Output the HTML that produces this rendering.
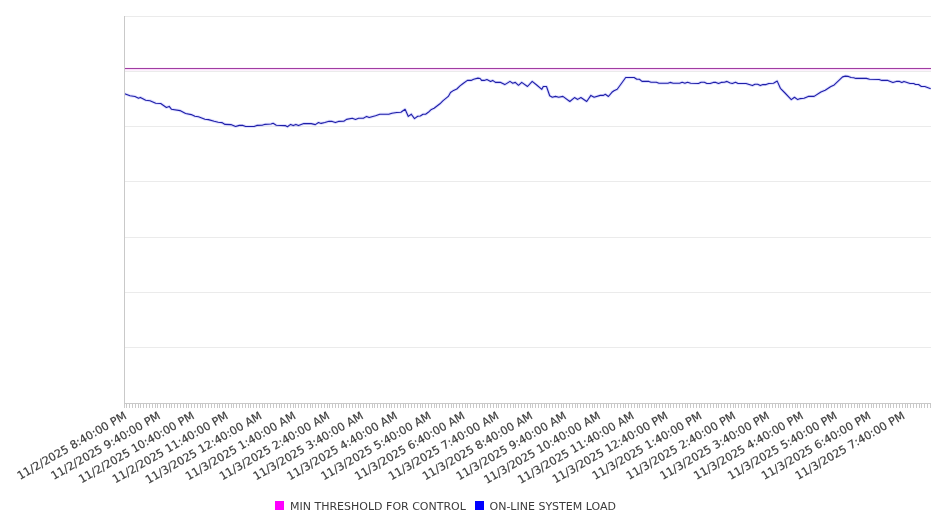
<!DOCTYPE html>
<html><head><meta charset="utf-8"><title>Chart</title>
<style>
html,body{margin:0;padding:0;background:#fff;width:946px;height:526px;overflow:hidden}
svg{display:block;will-change:transform}
text{font-family:"DejaVu Sans","Liberation Sans",sans-serif;font-size:11px;fill:#3b3b3b}
.xl{font-size:11.2px;stroke:#4a4a4a;stroke-width:0.2px}
</style></head><body>
<svg width="946" height="526" viewBox="0 0 946 526">
<rect width="946" height="526" fill="#fff"/>
<g shape-rendering="crispEdges"><rect x="125" y="16" width="806" height="1" fill="#ebebeb"/><rect x="125" y="71" width="806" height="1" fill="#ebebeb"/><rect x="125" y="126" width="806" height="1" fill="#ebebeb"/><rect x="125" y="181" width="806" height="1" fill="#ebebeb"/><rect x="125" y="237" width="806" height="1" fill="#ebebeb"/><rect x="125" y="292" width="806" height="1" fill="#ebebeb"/><rect x="125" y="347" width="806" height="1" fill="#ebebeb"/></g>
<rect x="125" y="67" width="806" height="1" fill="#fdf2fd"/><rect x="125" y="69" width="806" height="1" fill="#f8def8"/><rect x="125" y="70" width="806" height="1" fill="#fdf2fd"/><rect x="125" y="68" width="806" height="1" fill="#a03ca2"/>
<path d="M124.7 93.8 L130.0 95.7 L135.0 96.5 L138.5 98.2 L140.4 97.4 L145.7 100.2 L150.0 100.7 L155.7 103.2 L160.7 103.5 L166.4 107.5 L169.2 106.4 L171.4 109.2 L180.0 110.6 L185.6 113.5 L191.3 114.6 L194.9 116.3 L198.5 116.8 L204.9 119.2 L208.4 119.6 L214.2 121.3 L218.2 122.2 L221.9 122.6 L225.0 124.4 L230.9 124.6 L235.6 126.5 L239.3 125.4 L243.0 125.4 L245.7 126.5 L254.1 126.5 L256.8 125.4 L262.6 125.1 L264.7 124.4 L271.0 124.0 L273.1 123.3 L276.3 125.2 L285.3 125.6 L287.4 126.7 L290.6 124.4 L293.2 125.6 L295.9 124.4 L298.5 125.6 L303.8 123.6 L311.2 123.6 L315.3 124.6 L318.5 122.5 L321.1 123.4 L324.8 122.5 L329.0 121.3 L332.2 121.4 L335.4 122.6 L338.5 121.4 L343.8 121.2 L346.5 119.4 L352.3 118.3 L355.5 119.4 L358.6 118.3 L363.4 118.3 L366.6 116.4 L369.2 117.5 L375.5 115.8 L379.8 114.3 L388.8 114.3 L391.9 113.3 L396.7 112.5 L400.9 112.2 L405.1 109.3 L408.3 116.4 L411.3 114.2 L414.5 118.6 L417.7 116.3 L420.3 116.0 L423.0 114.2 L425.6 114.2 L428.3 112.3 L431.4 109.4 L434.1 108.3 L439.9 103.8 L443.1 100.7 L448.3 96.4 L450.5 92.5 L453.6 90.4 L456.8 89.0 L460.0 85.9 L463.1 83.5 L467.4 80.4 L471.1 80.4 L473.7 79.2 L477.9 78.1 L480.1 78.5 L481.6 80.4 L484.3 80.4 L486.9 79.5 L490.6 81.4 L492.7 80.4 L495.4 82.4 L500.7 82.4 L504.8 84.6 L510.0 81.4 L512.7 83.2 L515.3 82.4 L518.5 85.3 L521.7 82.4 L527.5 86.5 L532.2 81.4 L537.0 85.3 L541.8 89.3 L543.3 86.5 L546.5 86.5 L549.7 95.7 L552.3 97.2 L555.5 96.4 L558.7 97.2 L562.9 96.4 L569.8 101.5 L574.5 97.6 L577.7 99.4 L580.9 97.5 L586.7 101.5 L590.9 95.4 L594.1 97.2 L600.3 95.4 L603.5 95.4 L605.3 94.3 L608.4 96.5 L611.9 92.3 L614.0 90.7 L617.2 89.3 L621.4 83.5 L625.7 77.5 L634.1 77.5 L636.8 79.3 L639.4 79.3 L642.0 81.4 L648.9 81.4 L651.0 82.2 L656.3 82.2 L659.0 83.3 L667.9 83.3 L670.1 82.4 L673.2 83.3 L679.6 83.3 L682.2 82.2 L684.9 83.3 L687.5 82.2 L690.7 83.3 L698.5 83.5 L701.1 82.2 L704.3 82.2 L706.9 83.5 L710.1 83.5 L713.3 82.4 L715.9 82.4 L718.5 83.5 L721.2 82.4 L724.4 82.2 L727.0 81.4 L730.2 83.0 L732.3 83.5 L735.5 82.2 L738.1 83.5 L746.0 83.5 L752.4 85.6 L755.0 84.3 L757.7 84.3 L760.3 85.6 L762.9 84.6 L766.1 84.6 L768.8 83.5 L773.5 83.2 L777.2 81.1 L780.4 88.3 L785.0 93.0 L791.3 99.6 L794.5 97.2 L797.7 99.6 L800.3 98.6 L804.0 98.3 L808.3 96.4 L814.1 96.4 L820.9 92.0 L825.2 90.2 L830.5 86.7 L834.2 84.9 L838.4 80.9 L842.6 76.9 L845.3 76.1 L848.4 76.4 L851.1 77.5 L853.7 77.7 L855.8 78.4 L866.4 78.4 L869.6 79.3 L879.1 79.5 L881.8 80.4 L887.8 80.4 L892.9 82.5 L896.3 81.4 L899.6 81.4 L901.8 82.5 L904.0 81.4 L910.0 83.5 L913.7 83.5 L915.5 84.5 L918.5 84.5 L921.4 86.5 L924.8 86.5 L930.7 88.7" fill="none" stroke="#6a6aff" stroke-opacity="0.22" stroke-width="3" stroke-linejoin="round"/>
<path d="M124.7 93.8 L130.0 95.7 L135.0 96.5 L138.5 98.2 L140.4 97.4 L145.7 100.2 L150.0 100.7 L155.7 103.2 L160.7 103.5 L166.4 107.5 L169.2 106.4 L171.4 109.2 L180.0 110.6 L185.6 113.5 L191.3 114.6 L194.9 116.3 L198.5 116.8 L204.9 119.2 L208.4 119.6 L214.2 121.3 L218.2 122.2 L221.9 122.6 L225.0 124.4 L230.9 124.6 L235.6 126.5 L239.3 125.4 L243.0 125.4 L245.7 126.5 L254.1 126.5 L256.8 125.4 L262.6 125.1 L264.7 124.4 L271.0 124.0 L273.1 123.3 L276.3 125.2 L285.3 125.6 L287.4 126.7 L290.6 124.4 L293.2 125.6 L295.9 124.4 L298.5 125.6 L303.8 123.6 L311.2 123.6 L315.3 124.6 L318.5 122.5 L321.1 123.4 L324.8 122.5 L329.0 121.3 L332.2 121.4 L335.4 122.6 L338.5 121.4 L343.8 121.2 L346.5 119.4 L352.3 118.3 L355.5 119.4 L358.6 118.3 L363.4 118.3 L366.6 116.4 L369.2 117.5 L375.5 115.8 L379.8 114.3 L388.8 114.3 L391.9 113.3 L396.7 112.5 L400.9 112.2 L405.1 109.3 L408.3 116.4 L411.3 114.2 L414.5 118.6 L417.7 116.3 L420.3 116.0 L423.0 114.2 L425.6 114.2 L428.3 112.3 L431.4 109.4 L434.1 108.3 L439.9 103.8 L443.1 100.7 L448.3 96.4 L450.5 92.5 L453.6 90.4 L456.8 89.0 L460.0 85.9 L463.1 83.5 L467.4 80.4 L471.1 80.4 L473.7 79.2 L477.9 78.1 L480.1 78.5 L481.6 80.4 L484.3 80.4 L486.9 79.5 L490.6 81.4 L492.7 80.4 L495.4 82.4 L500.7 82.4 L504.8 84.6 L510.0 81.4 L512.7 83.2 L515.3 82.4 L518.5 85.3 L521.7 82.4 L527.5 86.5 L532.2 81.4 L537.0 85.3 L541.8 89.3 L543.3 86.5 L546.5 86.5 L549.7 95.7 L552.3 97.2 L555.5 96.4 L558.7 97.2 L562.9 96.4 L569.8 101.5 L574.5 97.6 L577.7 99.4 L580.9 97.5 L586.7 101.5 L590.9 95.4 L594.1 97.2 L600.3 95.4 L603.5 95.4 L605.3 94.3 L608.4 96.5 L611.9 92.3 L614.0 90.7 L617.2 89.3 L621.4 83.5 L625.7 77.5 L634.1 77.5 L636.8 79.3 L639.4 79.3 L642.0 81.4 L648.9 81.4 L651.0 82.2 L656.3 82.2 L659.0 83.3 L667.9 83.3 L670.1 82.4 L673.2 83.3 L679.6 83.3 L682.2 82.2 L684.9 83.3 L687.5 82.2 L690.7 83.3 L698.5 83.5 L701.1 82.2 L704.3 82.2 L706.9 83.5 L710.1 83.5 L713.3 82.4 L715.9 82.4 L718.5 83.5 L721.2 82.4 L724.4 82.2 L727.0 81.4 L730.2 83.0 L732.3 83.5 L735.5 82.2 L738.1 83.5 L746.0 83.5 L752.4 85.6 L755.0 84.3 L757.7 84.3 L760.3 85.6 L762.9 84.6 L766.1 84.6 L768.8 83.5 L773.5 83.2 L777.2 81.1 L780.4 88.3 L785.0 93.0 L791.3 99.6 L794.5 97.2 L797.7 99.6 L800.3 98.6 L804.0 98.3 L808.3 96.4 L814.1 96.4 L820.9 92.0 L825.2 90.2 L830.5 86.7 L834.2 84.9 L838.4 80.9 L842.6 76.9 L845.3 76.1 L848.4 76.4 L851.1 77.5 L853.7 77.7 L855.8 78.4 L866.4 78.4 L869.6 79.3 L879.1 79.5 L881.8 80.4 L887.8 80.4 L892.9 82.5 L896.3 81.4 L899.6 81.4 L901.8 82.5 L904.0 81.4 L910.0 83.5 L913.7 83.5 L915.5 84.5 L918.5 84.5 L921.4 86.5 L924.8 86.5 L930.7 88.7" fill="none" stroke="#1f1fa8" stroke-width="1.1" stroke-linejoin="round"/>
<g><rect x="124" y="16" width="1" height="392" fill="#c9c9c9"/><rect x="124" y="403" width="807" height="1" fill="#c9c9c9"/><rect x="124" y="404" width="1" height="4" fill="#c9c9c9"/><rect x="126" y="404" width="1" height="4" fill="#c9c9c9"/><rect x="129" y="404" width="1" height="4" fill="#c9c9c9"/><rect x="132" y="404" width="1" height="4" fill="#c9c9c9"/><rect x="135" y="404" width="1" height="4" fill="#c9c9c9"/><rect x="138" y="404" width="1" height="4" fill="#c9c9c9"/><rect x="140" y="404" width="1" height="4" fill="#c9c9c9"/><rect x="143" y="404" width="1" height="4" fill="#c9c9c9"/><rect x="146" y="404" width="1" height="4" fill="#c9c9c9"/><rect x="149" y="404" width="1" height="4" fill="#c9c9c9"/><rect x="152" y="404" width="1" height="4" fill="#c9c9c9"/><rect x="155" y="404" width="1" height="4" fill="#c9c9c9"/><rect x="157" y="404" width="1" height="4" fill="#c9c9c9"/><rect x="160" y="404" width="1" height="4" fill="#c9c9c9"/><rect x="163" y="404" width="1" height="4" fill="#c9c9c9"/><rect x="166" y="404" width="1" height="4" fill="#c9c9c9"/><rect x="169" y="404" width="1" height="4" fill="#c9c9c9"/><rect x="171" y="404" width="1" height="4" fill="#c9c9c9"/><rect x="174" y="404" width="1" height="4" fill="#c9c9c9"/><rect x="177" y="404" width="1" height="4" fill="#c9c9c9"/><rect x="180" y="404" width="1" height="4" fill="#c9c9c9"/><rect x="183" y="404" width="1" height="4" fill="#c9c9c9"/><rect x="186" y="404" width="1" height="4" fill="#c9c9c9"/><rect x="188" y="404" width="1" height="4" fill="#c9c9c9"/><rect x="191" y="404" width="1" height="4" fill="#c9c9c9"/><rect x="194" y="404" width="1" height="4" fill="#c9c9c9"/><rect x="197" y="404" width="1" height="4" fill="#c9c9c9"/><rect x="200" y="404" width="1" height="4" fill="#c9c9c9"/><rect x="202" y="404" width="1" height="4" fill="#c9c9c9"/><rect x="205" y="404" width="1" height="4" fill="#c9c9c9"/><rect x="208" y="404" width="1" height="4" fill="#c9c9c9"/><rect x="211" y="404" width="1" height="4" fill="#c9c9c9"/><rect x="214" y="404" width="1" height="4" fill="#c9c9c9"/><rect x="217" y="404" width="1" height="4" fill="#c9c9c9"/><rect x="219" y="404" width="1" height="4" fill="#c9c9c9"/><rect x="222" y="404" width="1" height="4" fill="#c9c9c9"/><rect x="225" y="404" width="1" height="4" fill="#c9c9c9"/><rect x="228" y="404" width="1" height="4" fill="#c9c9c9"/><rect x="231" y="404" width="1" height="4" fill="#c9c9c9"/><rect x="233" y="404" width="1" height="4" fill="#c9c9c9"/><rect x="236" y="404" width="1" height="4" fill="#c9c9c9"/><rect x="239" y="404" width="1" height="4" fill="#c9c9c9"/><rect x="242" y="404" width="1" height="4" fill="#c9c9c9"/><rect x="245" y="404" width="1" height="4" fill="#c9c9c9"/><rect x="248" y="404" width="1" height="4" fill="#c9c9c9"/><rect x="250" y="404" width="1" height="4" fill="#c9c9c9"/><rect x="253" y="404" width="1" height="4" fill="#c9c9c9"/><rect x="256" y="404" width="1" height="4" fill="#c9c9c9"/><rect x="259" y="404" width="1" height="4" fill="#c9c9c9"/><rect x="262" y="404" width="1" height="4" fill="#c9c9c9"/><rect x="264" y="404" width="1" height="4" fill="#c9c9c9"/><rect x="267" y="404" width="1" height="4" fill="#c9c9c9"/><rect x="270" y="404" width="1" height="4" fill="#c9c9c9"/><rect x="273" y="404" width="1" height="4" fill="#c9c9c9"/><rect x="276" y="404" width="1" height="4" fill="#c9c9c9"/><rect x="279" y="404" width="1" height="4" fill="#c9c9c9"/><rect x="281" y="404" width="1" height="4" fill="#c9c9c9"/><rect x="284" y="404" width="1" height="4" fill="#c9c9c9"/><rect x="287" y="404" width="1" height="4" fill="#c9c9c9"/><rect x="290" y="404" width="1" height="4" fill="#c9c9c9"/><rect x="293" y="404" width="1" height="4" fill="#c9c9c9"/><rect x="295" y="404" width="1" height="4" fill="#c9c9c9"/><rect x="298" y="404" width="1" height="4" fill="#c9c9c9"/><rect x="301" y="404" width="1" height="4" fill="#c9c9c9"/><rect x="304" y="404" width="1" height="4" fill="#c9c9c9"/><rect x="307" y="404" width="1" height="4" fill="#c9c9c9"/><rect x="310" y="404" width="1" height="4" fill="#c9c9c9"/><rect x="312" y="404" width="1" height="4" fill="#c9c9c9"/><rect x="315" y="404" width="1" height="4" fill="#c9c9c9"/><rect x="318" y="404" width="1" height="4" fill="#c9c9c9"/><rect x="321" y="404" width="1" height="4" fill="#c9c9c9"/><rect x="324" y="404" width="1" height="4" fill="#c9c9c9"/><rect x="327" y="404" width="1" height="4" fill="#c9c9c9"/><rect x="329" y="404" width="1" height="4" fill="#c9c9c9"/><rect x="332" y="404" width="1" height="4" fill="#c9c9c9"/><rect x="335" y="404" width="1" height="4" fill="#c9c9c9"/><rect x="338" y="404" width="1" height="4" fill="#c9c9c9"/><rect x="341" y="404" width="1" height="4" fill="#c9c9c9"/><rect x="343" y="404" width="1" height="4" fill="#c9c9c9"/><rect x="346" y="404" width="1" height="4" fill="#c9c9c9"/><rect x="349" y="404" width="1" height="4" fill="#c9c9c9"/><rect x="352" y="404" width="1" height="4" fill="#c9c9c9"/><rect x="355" y="404" width="1" height="4" fill="#c9c9c9"/><rect x="358" y="404" width="1" height="4" fill="#c9c9c9"/><rect x="360" y="404" width="1" height="4" fill="#c9c9c9"/><rect x="363" y="404" width="1" height="4" fill="#c9c9c9"/><rect x="366" y="404" width="1" height="4" fill="#c9c9c9"/><rect x="369" y="404" width="1" height="4" fill="#c9c9c9"/><rect x="372" y="404" width="1" height="4" fill="#c9c9c9"/><rect x="374" y="404" width="1" height="4" fill="#c9c9c9"/><rect x="377" y="404" width="1" height="4" fill="#c9c9c9"/><rect x="380" y="404" width="1" height="4" fill="#c9c9c9"/><rect x="383" y="404" width="1" height="4" fill="#c9c9c9"/><rect x="386" y="404" width="1" height="4" fill="#c9c9c9"/><rect x="389" y="404" width="1" height="4" fill="#c9c9c9"/><rect x="391" y="404" width="1" height="4" fill="#c9c9c9"/><rect x="394" y="404" width="1" height="4" fill="#c9c9c9"/><rect x="397" y="404" width="1" height="4" fill="#c9c9c9"/><rect x="400" y="404" width="1" height="4" fill="#c9c9c9"/><rect x="403" y="404" width="1" height="4" fill="#c9c9c9"/><rect x="405" y="404" width="1" height="4" fill="#c9c9c9"/><rect x="408" y="404" width="1" height="4" fill="#c9c9c9"/><rect x="411" y="404" width="1" height="4" fill="#c9c9c9"/><rect x="414" y="404" width="1" height="4" fill="#c9c9c9"/><rect x="417" y="404" width="1" height="4" fill="#c9c9c9"/><rect x="420" y="404" width="1" height="4" fill="#c9c9c9"/><rect x="422" y="404" width="1" height="4" fill="#c9c9c9"/><rect x="425" y="404" width="1" height="4" fill="#c9c9c9"/><rect x="428" y="404" width="1" height="4" fill="#c9c9c9"/><rect x="431" y="404" width="1" height="4" fill="#c9c9c9"/><rect x="434" y="404" width="1" height="4" fill="#c9c9c9"/><rect x="436" y="404" width="1" height="4" fill="#c9c9c9"/><rect x="439" y="404" width="1" height="4" fill="#c9c9c9"/><rect x="442" y="404" width="1" height="4" fill="#c9c9c9"/><rect x="445" y="404" width="1" height="4" fill="#c9c9c9"/><rect x="448" y="404" width="1" height="4" fill="#c9c9c9"/><rect x="451" y="404" width="1" height="4" fill="#c9c9c9"/><rect x="453" y="404" width="1" height="4" fill="#c9c9c9"/><rect x="456" y="404" width="1" height="4" fill="#c9c9c9"/><rect x="459" y="404" width="1" height="4" fill="#c9c9c9"/><rect x="462" y="404" width="1" height="4" fill="#c9c9c9"/><rect x="465" y="404" width="1" height="4" fill="#c9c9c9"/><rect x="467" y="404" width="1" height="4" fill="#c9c9c9"/><rect x="470" y="404" width="1" height="4" fill="#c9c9c9"/><rect x="473" y="404" width="1" height="4" fill="#c9c9c9"/><rect x="476" y="404" width="1" height="4" fill="#c9c9c9"/><rect x="479" y="404" width="1" height="4" fill="#c9c9c9"/><rect x="482" y="404" width="1" height="4" fill="#c9c9c9"/><rect x="484" y="404" width="1" height="4" fill="#c9c9c9"/><rect x="487" y="404" width="1" height="4" fill="#c9c9c9"/><rect x="490" y="404" width="1" height="4" fill="#c9c9c9"/><rect x="493" y="404" width="1" height="4" fill="#c9c9c9"/><rect x="496" y="404" width="1" height="4" fill="#c9c9c9"/><rect x="498" y="404" width="1" height="4" fill="#c9c9c9"/><rect x="501" y="404" width="1" height="4" fill="#c9c9c9"/><rect x="504" y="404" width="1" height="4" fill="#c9c9c9"/><rect x="507" y="404" width="1" height="4" fill="#c9c9c9"/><rect x="510" y="404" width="1" height="4" fill="#c9c9c9"/><rect x="513" y="404" width="1" height="4" fill="#c9c9c9"/><rect x="515" y="404" width="1" height="4" fill="#c9c9c9"/><rect x="518" y="404" width="1" height="4" fill="#c9c9c9"/><rect x="521" y="404" width="1" height="4" fill="#c9c9c9"/><rect x="524" y="404" width="1" height="4" fill="#c9c9c9"/><rect x="527" y="404" width="1" height="4" fill="#c9c9c9"/><rect x="530" y="404" width="1" height="4" fill="#c9c9c9"/><rect x="532" y="404" width="1" height="4" fill="#c9c9c9"/><rect x="535" y="404" width="1" height="4" fill="#c9c9c9"/><rect x="538" y="404" width="1" height="4" fill="#c9c9c9"/><rect x="541" y="404" width="1" height="4" fill="#c9c9c9"/><rect x="544" y="404" width="1" height="4" fill="#c9c9c9"/><rect x="546" y="404" width="1" height="4" fill="#c9c9c9"/><rect x="549" y="404" width="1" height="4" fill="#c9c9c9"/><rect x="552" y="404" width="1" height="4" fill="#c9c9c9"/><rect x="555" y="404" width="1" height="4" fill="#c9c9c9"/><rect x="558" y="404" width="1" height="4" fill="#c9c9c9"/><rect x="561" y="404" width="1" height="4" fill="#c9c9c9"/><rect x="563" y="404" width="1" height="4" fill="#c9c9c9"/><rect x="566" y="404" width="1" height="4" fill="#c9c9c9"/><rect x="569" y="404" width="1" height="4" fill="#c9c9c9"/><rect x="572" y="404" width="1" height="4" fill="#c9c9c9"/><rect x="575" y="404" width="1" height="4" fill="#c9c9c9"/><rect x="577" y="404" width="1" height="4" fill="#c9c9c9"/><rect x="580" y="404" width="1" height="4" fill="#c9c9c9"/><rect x="583" y="404" width="1" height="4" fill="#c9c9c9"/><rect x="586" y="404" width="1" height="4" fill="#c9c9c9"/><rect x="589" y="404" width="1" height="4" fill="#c9c9c9"/><rect x="592" y="404" width="1" height="4" fill="#c9c9c9"/><rect x="594" y="404" width="1" height="4" fill="#c9c9c9"/><rect x="597" y="404" width="1" height="4" fill="#c9c9c9"/><rect x="600" y="404" width="1" height="4" fill="#c9c9c9"/><rect x="603" y="404" width="1" height="4" fill="#c9c9c9"/><rect x="606" y="404" width="1" height="4" fill="#c9c9c9"/><rect x="608" y="404" width="1" height="4" fill="#c9c9c9"/><rect x="611" y="404" width="1" height="4" fill="#c9c9c9"/><rect x="614" y="404" width="1" height="4" fill="#c9c9c9"/><rect x="617" y="404" width="1" height="4" fill="#c9c9c9"/><rect x="620" y="404" width="1" height="4" fill="#c9c9c9"/><rect x="623" y="404" width="1" height="4" fill="#c9c9c9"/><rect x="625" y="404" width="1" height="4" fill="#c9c9c9"/><rect x="628" y="404" width="1" height="4" fill="#c9c9c9"/><rect x="631" y="404" width="1" height="4" fill="#c9c9c9"/><rect x="634" y="404" width="1" height="4" fill="#c9c9c9"/><rect x="637" y="404" width="1" height="4" fill="#c9c9c9"/><rect x="639" y="404" width="1" height="4" fill="#c9c9c9"/><rect x="642" y="404" width="1" height="4" fill="#c9c9c9"/><rect x="645" y="404" width="1" height="4" fill="#c9c9c9"/><rect x="648" y="404" width="1" height="4" fill="#c9c9c9"/><rect x="651" y="404" width="1" height="4" fill="#c9c9c9"/><rect x="654" y="404" width="1" height="4" fill="#c9c9c9"/><rect x="656" y="404" width="1" height="4" fill="#c9c9c9"/><rect x="659" y="404" width="1" height="4" fill="#c9c9c9"/><rect x="662" y="404" width="1" height="4" fill="#c9c9c9"/><rect x="665" y="404" width="1" height="4" fill="#c9c9c9"/><rect x="668" y="404" width="1" height="4" fill="#c9c9c9"/><rect x="670" y="404" width="1" height="4" fill="#c9c9c9"/><rect x="673" y="404" width="1" height="4" fill="#c9c9c9"/><rect x="676" y="404" width="1" height="4" fill="#c9c9c9"/><rect x="679" y="404" width="1" height="4" fill="#c9c9c9"/><rect x="682" y="404" width="1" height="4" fill="#c9c9c9"/><rect x="685" y="404" width="1" height="4" fill="#c9c9c9"/><rect x="687" y="404" width="1" height="4" fill="#c9c9c9"/><rect x="690" y="404" width="1" height="4" fill="#c9c9c9"/><rect x="693" y="404" width="1" height="4" fill="#c9c9c9"/><rect x="696" y="404" width="1" height="4" fill="#c9c9c9"/><rect x="699" y="404" width="1" height="4" fill="#c9c9c9"/><rect x="701" y="404" width="1" height="4" fill="#c9c9c9"/><rect x="704" y="404" width="1" height="4" fill="#c9c9c9"/><rect x="707" y="404" width="1" height="4" fill="#c9c9c9"/><rect x="710" y="404" width="1" height="4" fill="#c9c9c9"/><rect x="713" y="404" width="1" height="4" fill="#c9c9c9"/><rect x="716" y="404" width="1" height="4" fill="#c9c9c9"/><rect x="718" y="404" width="1" height="4" fill="#c9c9c9"/><rect x="721" y="404" width="1" height="4" fill="#c9c9c9"/><rect x="724" y="404" width="1" height="4" fill="#c9c9c9"/><rect x="727" y="404" width="1" height="4" fill="#c9c9c9"/><rect x="730" y="404" width="1" height="4" fill="#c9c9c9"/><rect x="733" y="404" width="1" height="4" fill="#c9c9c9"/><rect x="735" y="404" width="1" height="4" fill="#c9c9c9"/><rect x="738" y="404" width="1" height="4" fill="#c9c9c9"/><rect x="741" y="404" width="1" height="4" fill="#c9c9c9"/><rect x="744" y="404" width="1" height="4" fill="#c9c9c9"/><rect x="747" y="404" width="1" height="4" fill="#c9c9c9"/><rect x="749" y="404" width="1" height="4" fill="#c9c9c9"/><rect x="752" y="404" width="1" height="4" fill="#c9c9c9"/><rect x="755" y="404" width="1" height="4" fill="#c9c9c9"/><rect x="758" y="404" width="1" height="4" fill="#c9c9c9"/><rect x="761" y="404" width="1" height="4" fill="#c9c9c9"/><rect x="764" y="404" width="1" height="4" fill="#c9c9c9"/><rect x="766" y="404" width="1" height="4" fill="#c9c9c9"/><rect x="769" y="404" width="1" height="4" fill="#c9c9c9"/><rect x="772" y="404" width="1" height="4" fill="#c9c9c9"/><rect x="775" y="404" width="1" height="4" fill="#c9c9c9"/><rect x="778" y="404" width="1" height="4" fill="#c9c9c9"/><rect x="780" y="404" width="1" height="4" fill="#c9c9c9"/><rect x="783" y="404" width="1" height="4" fill="#c9c9c9"/><rect x="786" y="404" width="1" height="4" fill="#c9c9c9"/><rect x="789" y="404" width="1" height="4" fill="#c9c9c9"/><rect x="792" y="404" width="1" height="4" fill="#c9c9c9"/><rect x="795" y="404" width="1" height="4" fill="#c9c9c9"/><rect x="797" y="404" width="1" height="4" fill="#c9c9c9"/><rect x="800" y="404" width="1" height="4" fill="#c9c9c9"/><rect x="803" y="404" width="1" height="4" fill="#c9c9c9"/><rect x="806" y="404" width="1" height="4" fill="#c9c9c9"/><rect x="809" y="404" width="1" height="4" fill="#c9c9c9"/><rect x="811" y="404" width="1" height="4" fill="#c9c9c9"/><rect x="814" y="404" width="1" height="4" fill="#c9c9c9"/><rect x="817" y="404" width="1" height="4" fill="#c9c9c9"/><rect x="820" y="404" width="1" height="4" fill="#c9c9c9"/><rect x="823" y="404" width="1" height="4" fill="#c9c9c9"/><rect x="826" y="404" width="1" height="4" fill="#c9c9c9"/><rect x="828" y="404" width="1" height="4" fill="#c9c9c9"/><rect x="831" y="404" width="1" height="4" fill="#c9c9c9"/><rect x="834" y="404" width="1" height="4" fill="#c9c9c9"/><rect x="837" y="404" width="1" height="4" fill="#c9c9c9"/><rect x="840" y="404" width="1" height="4" fill="#c9c9c9"/><rect x="842" y="404" width="1" height="4" fill="#c9c9c9"/><rect x="845" y="404" width="1" height="4" fill="#c9c9c9"/><rect x="848" y="404" width="1" height="4" fill="#c9c9c9"/><rect x="851" y="404" width="1" height="4" fill="#c9c9c9"/><rect x="854" y="404" width="1" height="4" fill="#c9c9c9"/><rect x="857" y="404" width="1" height="4" fill="#c9c9c9"/><rect x="859" y="404" width="1" height="4" fill="#c9c9c9"/><rect x="862" y="404" width="1" height="4" fill="#c9c9c9"/><rect x="865" y="404" width="1" height="4" fill="#c9c9c9"/><rect x="868" y="404" width="1" height="4" fill="#c9c9c9"/><rect x="871" y="404" width="1" height="4" fill="#c9c9c9"/><rect x="873" y="404" width="1" height="4" fill="#c9c9c9"/><rect x="876" y="404" width="1" height="4" fill="#c9c9c9"/><rect x="879" y="404" width="1" height="4" fill="#c9c9c9"/><rect x="882" y="404" width="1" height="4" fill="#c9c9c9"/><rect x="885" y="404" width="1" height="4" fill="#c9c9c9"/><rect x="888" y="404" width="1" height="4" fill="#c9c9c9"/><rect x="890" y="404" width="1" height="4" fill="#c9c9c9"/><rect x="893" y="404" width="1" height="4" fill="#c9c9c9"/><rect x="896" y="404" width="1" height="4" fill="#c9c9c9"/><rect x="899" y="404" width="1" height="4" fill="#c9c9c9"/><rect x="902" y="404" width="1" height="4" fill="#c9c9c9"/><rect x="905" y="404" width="1" height="4" fill="#c9c9c9"/><rect x="907" y="404" width="1" height="4" fill="#c9c9c9"/><rect x="910" y="404" width="1" height="4" fill="#c9c9c9"/><rect x="913" y="404" width="1" height="4" fill="#c9c9c9"/><rect x="916" y="404" width="1" height="4" fill="#c9c9c9"/><rect x="919" y="404" width="1" height="4" fill="#c9c9c9"/><rect x="921" y="404" width="1" height="4" fill="#c9c9c9"/><rect x="924" y="404" width="1" height="4" fill="#c9c9c9"/><rect x="927" y="404" width="1" height="4" fill="#c9c9c9"/><rect x="930" y="404" width="1" height="4" fill="#c9c9c9"/></g>
<g><text class="xl" x="127.3" y="418.0" text-anchor="end" transform="rotate(-30 127.3 418.0)">11/2/2025 8:40:00 PM</text>
<text class="xl" x="161.2" y="418.0" text-anchor="end" transform="rotate(-30 161.2 418.0)">11/2/2025 9:40:00 PM</text>
<text class="xl" x="195.0" y="418.0" text-anchor="end" transform="rotate(-30 195.0 418.0)">11/2/2025 10:40:00 PM</text>
<text class="xl" x="228.9" y="418.0" text-anchor="end" transform="rotate(-30 228.9 418.0)">11/2/2025 11:40:00 PM</text>
<text class="xl" x="262.7" y="418.0" text-anchor="end" transform="rotate(-30 262.7 418.0)">11/3/2025 12:40:00 AM</text>
<text class="xl" x="296.5" y="418.0" text-anchor="end" transform="rotate(-30 296.5 418.0)">11/3/2025 1:40:00 AM</text>
<text class="xl" x="330.4" y="418.0" text-anchor="end" transform="rotate(-30 330.4 418.0)">11/3/2025 2:40:00 AM</text>
<text class="xl" x="364.2" y="418.0" text-anchor="end" transform="rotate(-30 364.2 418.0)">11/3/2025 3:40:00 AM</text>
<text class="xl" x="398.0" y="418.0" text-anchor="end" transform="rotate(-30 398.0 418.0)">11/3/2025 4:40:00 AM</text>
<text class="xl" x="431.9" y="418.0" text-anchor="end" transform="rotate(-30 431.9 418.0)">11/3/2025 5:40:00 AM</text>
<text class="xl" x="465.7" y="418.0" text-anchor="end" transform="rotate(-30 465.7 418.0)">11/3/2025 6:40:00 AM</text>
<text class="xl" x="499.5" y="418.0" text-anchor="end" transform="rotate(-30 499.5 418.0)">11/3/2025 7:40:00 AM</text>
<text class="xl" x="533.4" y="418.0" text-anchor="end" transform="rotate(-30 533.4 418.0)">11/3/2025 8:40:00 AM</text>
<text class="xl" x="567.2" y="418.0" text-anchor="end" transform="rotate(-30 567.2 418.0)">11/3/2025 9:40:00 AM</text>
<text class="xl" x="601.0" y="418.0" text-anchor="end" transform="rotate(-30 601.0 418.0)">11/3/2025 10:40:00 AM</text>
<text class="xl" x="634.9" y="418.0" text-anchor="end" transform="rotate(-30 634.9 418.0)">11/3/2025 11:40:00 AM</text>
<text class="xl" x="668.7" y="418.0" text-anchor="end" transform="rotate(-30 668.7 418.0)">11/3/2025 12:40:00 PM</text>
<text class="xl" x="702.5" y="418.0" text-anchor="end" transform="rotate(-30 702.5 418.0)">11/3/2025 1:40:00 PM</text>
<text class="xl" x="736.4" y="418.0" text-anchor="end" transform="rotate(-30 736.4 418.0)">11/3/2025 2:40:00 PM</text>
<text class="xl" x="770.2" y="418.0" text-anchor="end" transform="rotate(-30 770.2 418.0)">11/3/2025 3:40:00 PM</text>
<text class="xl" x="804.0" y="418.0" text-anchor="end" transform="rotate(-30 804.0 418.0)">11/3/2025 4:40:00 PM</text>
<text class="xl" x="837.9" y="418.0" text-anchor="end" transform="rotate(-30 837.9 418.0)">11/3/2025 5:40:00 PM</text>
<text class="xl" x="871.7" y="418.0" text-anchor="end" transform="rotate(-30 871.7 418.0)">11/3/2025 6:40:00 PM</text>
<text class="xl" x="905.5" y="418.0" text-anchor="end" transform="rotate(-30 905.5 418.0)">11/3/2025 7:40:00 PM</text></g>
<rect x="275" y="501" width="9" height="9" fill="#ff00ff"/>
<text x="290" y="510">MIN THRESHOLD FOR CONTROL</text>
<rect x="475" y="501" width="9" height="9" fill="#0000ff"/>
<text x="489.5" y="510">ON-LINE SYSTEM LOAD</text>
</svg>
</body></html>
